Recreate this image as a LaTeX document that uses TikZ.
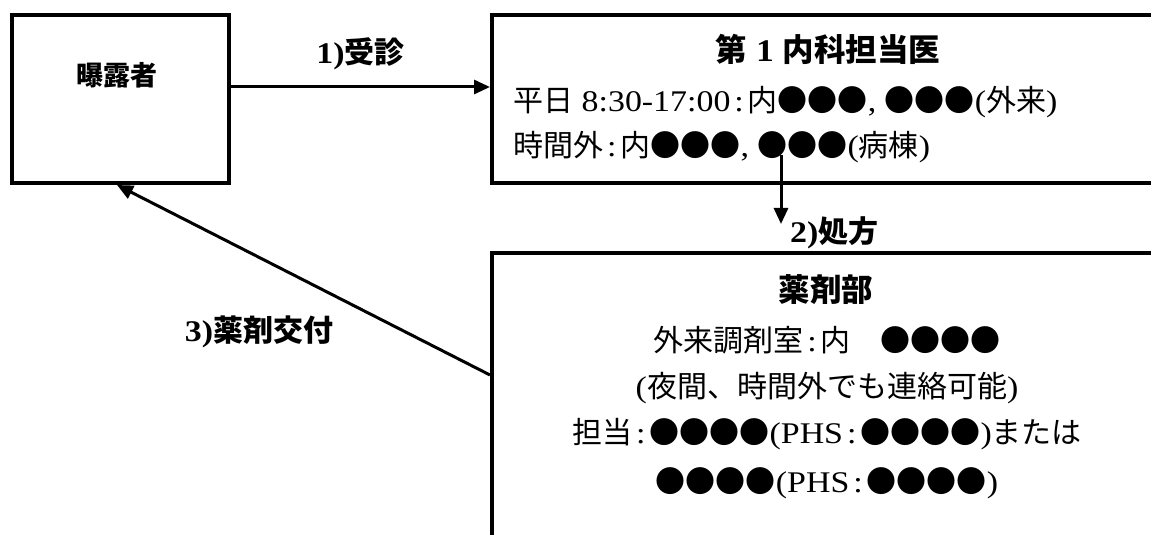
\documentclass[tikz,border=0pt]{standalone}
\usepackage{fontspec}
\setmainfont{Liberation Serif}[FakeStretch=1.13]
\newfontfamily\jp{Noto Sans CJK JP}
\usetikzlibrary{arrows.meta}
\newcommand\cln{\hspace{4bp}:\hspace{4bp}}
\tikzset{
  box/.style={draw, line width=4bp, inner sep=0pt},
  conn/.style={line width=3bp, -{Triangle[length=16bp,width=14bp]}},
  lbl/.style={font=\fontsize{30bp}{36bp}\selectfont\bfseries, inner sep=0pt, anchor=base},
  ttl/.style={font=\fontsize{31.5bp}{36bp}\selectfont\bfseries, inner sep=0pt, anchor=base},
  body/.style={font=\fontsize{30bp}{36bp}\selectfont, inner sep=0pt, anchor=base},
}
\begin{document}
\begin{tikzpicture}[x=1bp,y=-1bp]
\useasboundingbox (0,0) rectangle (1151,535);
\clip (0,0) rectangle (1151,535);
% boxes
\node[box, minimum width=217bp, minimum height=168bp] (A) at (120.5,99) {};
\node[box, minimum width=673bp, minimum height=168bp] (B) at (828.5,99) {};
\node[box, minimum width=673bp, minimum height=307bp] (C) at (828.5,406.5) {};
% texts
\node[lbl, font=\fontsize{27bp}{32bp}\selectfont\bfseries] (tA) at (117,86) {\jp 曝露者};
\node[ttl] (tB) at (828,61.5) {{\jp 第} 1 {\jp 内科担当医}};
\node[body, anchor=base west] (b1) at (513,111.5) {{\jp 平日} 8:30-17:00\cln{\jp 内●●●}, {\jp ●●●}({\jp 外来})};
\node[body, anchor=base west] (b2) at (513,156.5) {{\jp 時間外}\cln{\jp 内●●●}, {\jp ●●●}({\jp 病棟})};
\node[ttl] (tC) at (826,301.5) {\jp 薬剤部};
\node[body] (c1) at (827,351.5) {{\jp 外来調剤室}\cln{\jp 内　●●●●}};
\node[body] (c2) at (827,397.5) {({\jp 夜間、時間外でも連絡可能})};
\node[body] (c3) at (827,443.5) {{\jp 担当}\cln{\jp ●●●●}(PHS\cln{\jp ●●●●}){\jp または}};
\node[body] (c4) at (827,492.5) {{\jp ●●●●}(PHS\cln{\jp ●●●●})};
% connectors
\coordinate (s2) at (781,155);
\coordinate (e2) at (781,224);
\draw[conn] ([yshift=12bp]A.east) -- ([yshift=12bp]B.west) node[midway, lbl, anchor=center, yshift=33bp] (l1) {1){\jp 受診}};
\draw[conn] (s2) -- (e2);
\node[lbl, anchor=base west] (l2) at (790,242.5) {2){\jp 処方}};
\draw[conn] ([yshift=31.5bp]C.west) -- ([xshift=-3.5bp]A.south);
\node[lbl] (l3) at (259,341.5) {3){\jp 薬剤交付}};
\end{tikzpicture}
\end{document}
